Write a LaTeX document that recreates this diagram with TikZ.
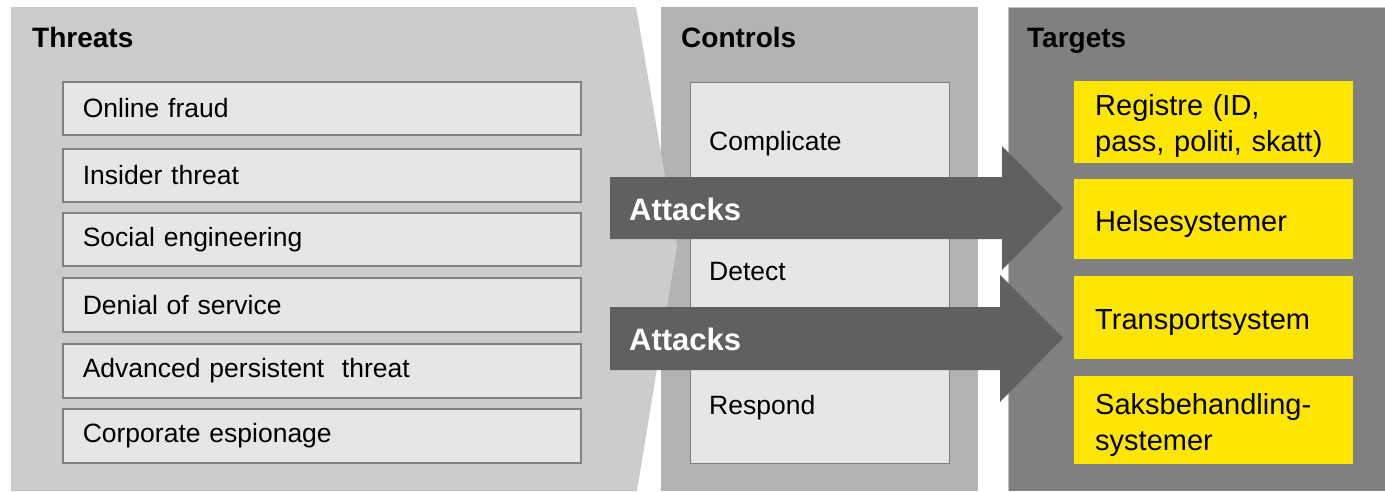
\documentclass[tikz,border=0pt]{standalone}
\usepackage{fontspec}
\setmainfont{Liberation Sans}
\definecolor{threatbg}{HTML}{CCCCCC}
\definecolor{controlbg}{HTML}{B3B3B3}
\definecolor{targetbg}{HTML}{808080}
\definecolor{targetedge}{HTML}{BFBFBF}
\definecolor{boxfill}{HTML}{E6E6E6}
\definecolor{boxline}{HTML}{808080}
\definecolor{attackfill}{HTML}{606060}
\definecolor{targetyellow}{HTML}{FFE600}
\begin{document}
\begin{tikzpicture}[x=1pt,y=-1pt,
  paneltitle/.style={anchor=base west, inner sep=0pt, font=\fontsize{28}{32}\selectfont\bfseries},
  threatbox/.style={draw=boxline, line width=1.6pt, fill=boxfill, anchor=north west,
    minimum width=518pt, inner xsep=20pt, inner ysep=0pt, text width=478pt, align=left,
    font=\fontsize{26.5}{30}\selectfont},
  controltext/.style={anchor=base west, inner sep=0pt, font=\fontsize{26.5}{30}\selectfont},
  targetbox/.style={fill=targetyellow, anchor=north west, minimum width=279pt,
    inner xsep=20pt, inner ysep=0pt, text width=239pt, align=left,
    font=\fontsize{29}{36}\selectfont},
  targettext/.style={anchor=west, inner sep=0pt, text width=239pt, align=left,
    font=\fontsize{29}{36}\selectfont},
  attackarrow/.style={fill=attackfill},
  attacklabel/.style={anchor=base west, inner sep=0pt, text=white, font=\fontsize{31}{35}\selectfont\bfseries}]

\useasboundingbox (0,0) rectangle (1385,491);
\fill[white] (0,0) rectangle (1385,491);

% Controls column
\fill[controlbg] (661,7) rectangle (978,491);

% Threats column, a pentagon whose point reaches into the controls column
\fill[threatbg] (11,7) -- (636,7) -- (677,246) -- (637,491) -- (11,491) -- cycle;

% Targets column
\fill[targetbg] (1008,7) rectangle (1385,491);
\draw[targetedge, line width=1pt] (1008.5,491) -- (1008.5,7.5) -- (1385,7.5);

% Titles
\node[paneltitle] (tthreats) at (32,47) {Threats};
\node[paneltitle] (tcontrols) at (681,47) {Controls};
\node[paneltitle] (ttargets) at (1027,47) {Targets};

% Threat list
\node[threatbox, minimum height=53pt] (t1) at (62,81) {Online fraud};
\node[threatbox, minimum height=53pt] (t2) at (62,148) {Insider threat};
\node[threatbox, minimum height=53pt] (t3) at (62,212) {Social engineering};
\node[threatbox, minimum height=54pt] (t4) at (62,277) {Denial of service};
\node[threatbox, minimum height=54pt] (t5) at (62,343) {Advanced persistent~ threat};
\node[threatbox, minimum height=54pt] (t6) at (62,408) {Corporate espionage};

% Controls box
\node[draw=boxline, line width=1.4pt, fill=boxfill, anchor=north west,
      minimum width=259pt, minimum height=381pt, inner sep=0pt] (cbox) at (690,82) {};
\node[controltext] (c1) at (709,150) {Complicate};
\node[controltext] (c2) at (709,280) {Detect};
\node[controltext] (c3) at (709,414) {Respond};

% Targets: yellow boxes with their labels
\node[targetbox, minimum height=82pt] (g1) at (1074,81) {};
\node[targetbox, minimum height=80pt] (g2) at (1074,179) {};
\node[targetbox, minimum height=83pt] (g3) at (1074,276) {};
\node[targetbox, minimum height=88pt] (g4) at (1074,376) {};
\node[targettext] (g1t) at ([xshift=21pt,yshift=-4pt]g1.west) {Registre (ID,\\pass, politi, skatt)};
\node[targettext] (g2t) at ([xshift=21pt,yshift=-4.5pt]g2.west) {Helsesystemer};
\node[targettext] (g3t) at ([xshift=21pt,yshift=-5pt]g3.west) {Transportsystem};
\node[targettext] (g4t) at ([xshift=21pt,yshift=-4.5pt]g4.west) {Saksbehandling-\\systemer};

% Attack block arrows
\coordinate (a1tip) at (1063,208);
\coordinate (a2tip) at (1063,338);
\fill[attackarrow] (610,177) -- (1002,177) -- (1002,146) -- (a1tip)
  -- (1002,270) -- (1002,239) -- (610,239) -- cycle;
\fill[attackarrow] (610,307) -- (1000,307) -- (1000,275) -- (a2tip)
  -- (1000,402) -- (1000,370) -- (610,370) -- cycle;
\node[attacklabel] (a1) at (629,220) {Attacks};
\node[attacklabel] (a2) at (629,350) {Attacks};

\end{tikzpicture}
\end{document}
